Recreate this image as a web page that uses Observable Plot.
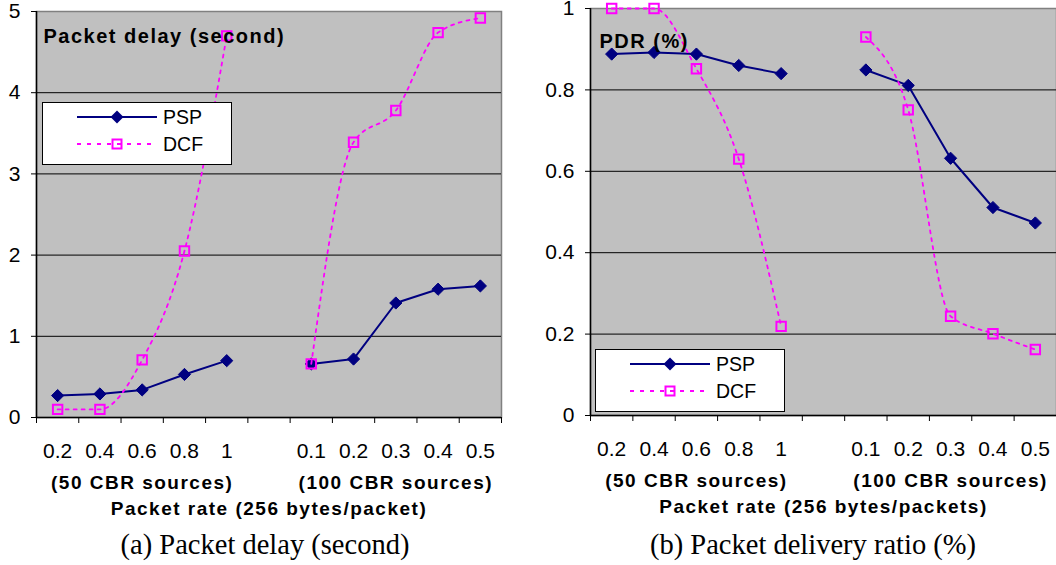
<!DOCTYPE html>
<html>
<head>
<meta charset="utf-8">
<script src="https://cdn.jsdelivr.net/npm/d3@7"></script>
<script src="https://cdn.jsdelivr.net/npm/@observablehq/plot@0.6"></script>
<style>
  html, body { margin: 0; padding: 0; background: white; }
  #wrap { position: relative; width: 1056px; height: 565px; overflow: hidden; background: white; }
  .panel { position: absolute; top: 0; }
  .panel svg { overflow: visible; }
  .panel svg text { font-family: "Liberation Sans", Arial, sans-serif; }
  .panel svg g[font-weight="bold"] text { letter-spacing: 1.5px; }
  .caption { position: absolute; top: 531px; width: 530px; text-align: center;
             font-family: "Liberation Serif", "Times New Roman", serif; font-size: 28.5px; line-height: 28px; color: black; }
  .legend { position: absolute; width: 188px; height: 61px; border: 1px solid black; background: white; }
  .legend svg { position: absolute; left: 0; top: 0; }
  .legend svg text { font-family: "Liberation Sans", Arial, sans-serif; font-size: 19.5px; }
</style>
</head>
<body>
<div id="wrap"></div>
<script>
// ---------- data ----------
const categories50 = ["0.2", "0.4", "0.6", "0.8", "1"];
const categories100 = ["0.1", "0.2", "0.3", "0.4", "0.5"];
const groupLabels = ["(50 CBR sources)", "(100 CBR sources)"];
const seriesNames = ["PSP", "DCF"];

const delayPSP50 = [0.27, 0.29, 0.34, 0.53, 0.70];
const delayPSP100 = [0.66, 0.72, 1.41, 1.58, 1.62];
const delayDCF50 = [0.10, 0.10, 0.71, 2.05, 4.70];
const delayDCF100 = [0.66, 3.39, 3.78, 4.74, 4.92];

const pdrPSP50 = [0.888, 0.892, 0.888, 0.86, 0.84];
const pdrPSP100 = [0.849, 0.811, 0.632, 0.511, 0.473];
const pdrDCF50 = [1.0, 1.0, 0.852, 0.630, 0.219];
const pdrDCF100 = [0.93, 0.751, 0.244, 0.201, 0.162];

const delayTicks = [0, 1, 2, 3, 4, 5];
const pdrTicks = [0, 0.2, 0.4, 0.6, 0.8, 1];

const titles = ["Packet delay (second)", "PDR (%)"];
const xLabels = ["Packet rate (256 bytes/packet)", "Packet rate (256 bytes/packets)"];
const captions = ["(a) Packet delay (second)", "(b) Packet delivery ratio (%)"];

// ---------- slots: group 50 | empty slot | group 100 ----------
const offset100 = categories50.length + 1;
const nSlots = offset100 + categories100.length;
const xDomain = [-0.5, nSlots - 0.5];
const boundaries = d3.range(nSlots + 1).map(i => i - 0.5);
const slots = [
  ...categories50.map((c, i) => ({label: c, idx: i})),
  ...categories100.map((c, i) => ({label: c, idx: offset100 + i}))
];
const groups = [
  {label: groupLabels[0], center: d3.mean(categories50, (c, i) => i)},
  {label: groupLabels[1], center: d3.mean(categories100, (c, i) => offset100 + i)}
];

function rows(series, v50, v100) {
  return [
    ...v50.map((v, i) => ({series, group: 0, idx: i, value: v})),
    ...v100.map((v, i) => ({series, group: 1, idx: offset100 + i, value: v}))
  ];
}

const PSP_COLOR = "#000080";
const DCF_COLOR = "#FF00FF";

function panel({psp, dcf, yTicks, title, xLabel, marginLeft, marginRight, marginTop, marginBottom, titleDx, titleDy}) {
  const yMax = d3.max(yTicks);
  return Plot.plot({
    width: 528,
    height: 520,
    marginLeft, marginRight, marginTop, marginBottom,
    x: {type: "linear", domain: xDomain, axis: null},
    y: {type: "linear", domain: [0, yMax], axis: null},
    style: {background: "white", color: "black", fontSize: "20px", fontFamily: "Liberation Sans, Arial, sans-serif", overflow: "visible"},
    marks: [
      Plot.frame({fill: "#C0C0C0", stroke: "#808080", strokeWidth: 1.5}),
      Plot.ruleY(yTicks.filter(t => t > 0 && t < yMax), {stroke: "black", strokeWidth: 1}),
      Plot.ruleY([0], {stroke: "black", strokeWidth: 1.5}),
      Plot.ruleX([xDomain[0]], {stroke: "black", strokeWidth: 1.5}),
      Plot.axisY(yTicks, {tickSize: 5, tickPadding: 11, fontSize: 21, tickFormat: d => String(d), label: null}),
      Plot.axisX(boundaries, {tickSize: 6, tickFormat: () => "", label: null}),
      Plot.text(slots, {x: "idx", text: "label", frameAnchor: "bottom", lineAnchor: "bottom", dy: 40, fontSize: 21}),
      Plot.text(groups, {x: "center", text: "label", frameAnchor: "bottom", lineAnchor: "bottom", dy: 71, fontSize: 19, fontWeight: "bold"}),
      Plot.text([xLabel], {text: d => d, frameAnchor: "bottom", lineAnchor: "bottom", dy: 97, fontSize: 19, fontWeight: "bold"}),
      Plot.line(psp, {x: "idx", y: "value", z: "group", stroke: PSP_COLOR, strokeWidth: 2}),
      Plot.dot(psp, {x: "idx", y: "value", symbol: "diamond2", r: 5.5, fill: PSP_COLOR, stroke: PSP_COLOR, strokeWidth: 1}),
      Plot.line(dcf, {x: "idx", y: "value", z: "group", stroke: DCF_COLOR, strokeWidth: 1.8, strokeDasharray: "3,5", curve: "monotone-x"}),
      Plot.dot(dcf, {x: "idx", y: "value", symbol: "square2", r: 6, fill: "none", stroke: DCF_COLOR, strokeWidth: 2}),
      Plot.text([title], {text: d => d, frameAnchor: "top-left", dx: titleDx, dy: titleDy, lineAnchor: "bottom", textAnchor: "start", fontSize: 20, fontWeight: "bold"})
    ]
  });
}

const wrap = document.getElementById("wrap");

function addPanel(svg, left) {
  const d = document.createElement("div");
  d.className = "panel";
  d.style.left = left + "px";
  d.appendChild(svg);
  wrap.appendChild(d);
}

addPanel(panel({
  psp: rows(seriesNames[0], delayPSP50, delayPSP100),
  dcf: rows(seriesNames[1], delayDCF50, delayDCF100),
  yTicks: delayTicks, title: titles[0], xLabel: xLabels[0],
  marginLeft: 36, marginRight: 27, marginTop: 11, marginBottom: 103,
  titleDx: 7, titleDy: 31
}), 0);

addPanel(panel({
  psp: rows(seriesNames[0], pdrPSP50, pdrPSP100),
  dcf: rows(seriesNames[1], pdrDCF50, pdrDCF100),
  yTicks: pdrTicks, title: titles[1], xLabel: xLabels[1],
  marginLeft: 62, marginRight: 0, marginTop: 8, marginBottom: 105,
  titleDx: 9, titleDy: 39
}), 528);

// ---------- legends ----------
function addLegend(left, top) {
  const d = document.createElement("div");
  d.className = "legend";
  d.style.left = left + "px";
  d.style.top = top + "px";
  const ns = "http://www.w3.org/2000/svg";
  const svg = document.createElementNS(ns, "svg");
  svg.setAttribute("width", 188);
  svg.setAttribute("height", 61);
  const entries = [
    {name: seriesNames[0], y: 14, color: PSP_COLOR, dash: null, sym: "diamond"},
    {name: seriesNames[1], y: 41, color: DCF_COLOR, dash: "4,6", sym: "square"}
  ];
  for (const e of entries) {
    const line = document.createElementNS(ns, "line");
    line.setAttribute("x1", 34); line.setAttribute("x2", 114);
    line.setAttribute("y1", e.y); line.setAttribute("y2", e.y);
    line.setAttribute("stroke", e.color);
    line.setAttribute("stroke-width", 2);
    if (e.dash) line.setAttribute("stroke-dasharray", e.dash);
    svg.appendChild(line);
    const p = document.createElementNS(ns, "path");
    if (e.sym === "diamond") {
      p.setAttribute("d", `M74,${e.y - 6.5}L80.5,${e.y}L74,${e.y + 6.5}L67.5,${e.y}Z`);
      p.setAttribute("fill", e.color);
    } else {
      p.setAttribute("d", `M69.5,${e.y - 4.5}h9v9h-9Z`);
      p.setAttribute("fill", "none");
      p.setAttribute("stroke", e.color);
      p.setAttribute("stroke-width", 2);
    }
    svg.appendChild(p);
    const t = document.createElementNS(ns, "text");
    t.setAttribute("x", 120);
    t.setAttribute("y", e.y + 7);
    t.textContent = e.name;
    svg.appendChild(t);
  }
  d.appendChild(svg);
  wrap.appendChild(d);
}
addLegend(42, 102);
addLegend(595, 349);

// ---------- captions ----------
function addCaption(text, left) {
  const d = document.createElement("div");
  d.className = "caption";
  d.style.left = left + "px";
  d.textContent = text;
  wrap.appendChild(d);
}
addCaption(captions[0], 0);
addCaption(captions[1], 548);
</script>
</body>
</html>
